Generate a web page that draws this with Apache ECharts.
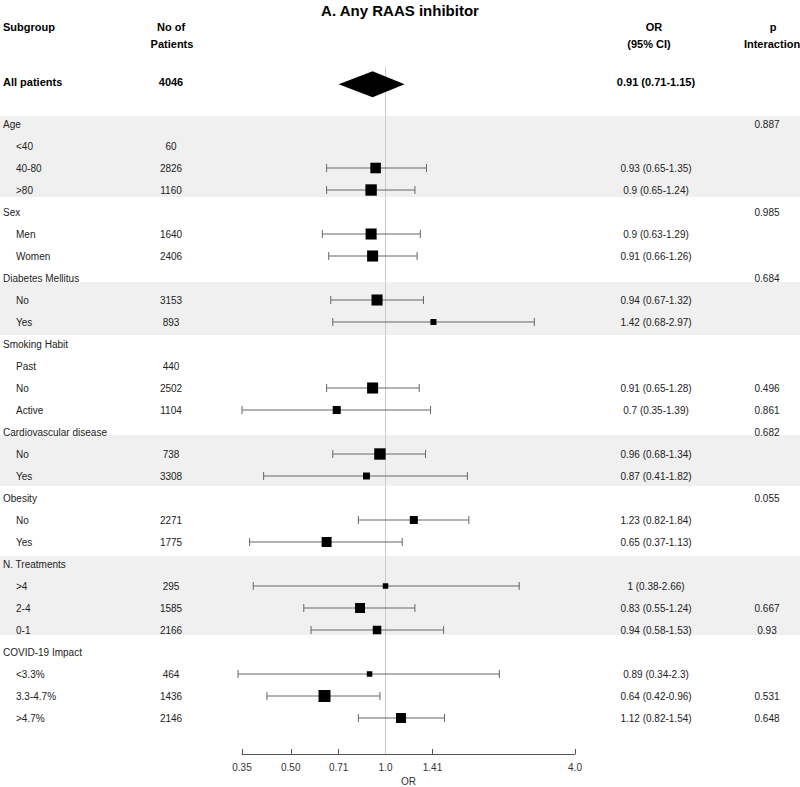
<!DOCTYPE html>
<html>
<head>
<meta charset="utf-8">
<script src="https://cdn.jsdelivr.net/npm/echarts@6/dist/echarts.min.js"></script>
<style>html,body{margin:0;padding:0;background:#fff}#c{width:800px;height:787px}</style>
</head>
<body>
<div id="c"></div>
<script>
// ---------------- data ----------------
const subgroups = ['Age','<40','40-80','>80','Sex','Men','Women','Diabetes Mellitus','No','Yes','Smoking Habit','Past','No','Active','Cardiovascular disease','No','Yes','Obesity','No','Yes','N. Treatments','>4','2-4','0-1','COVID-19 Impact','<3.3%','3.3-4.7%','>4.7%'];
const isGroupHeader = [1,0,0,0,1,0,0,1,0,0,1,0,0,0,1,0,0,1,0,0,1,0,0,0,1,0,0,0];
const patients = [null,60,2826,1160,null,1640,2406,null,3153,893,null,440,2502,1104,null,738,3308,null,2271,1775,null,295,1585,2166,null,464,1436,2146];
const orEst  = [null,null,0.93,0.9,null,0.9,0.91,null,0.94,1.42,null,null,0.91,0.7,null,0.96,0.87,null,1.23,0.65,null,1,0.83,0.94,null,0.89,0.64,1.12];
const ciLow  = [null,null,0.65,0.65,null,0.63,0.66,null,0.67,0.68,null,null,0.65,0.35,null,0.68,0.41,null,0.82,0.37,null,0.38,0.55,0.58,null,0.34,0.42,0.82];
const ciHigh = [null,null,1.35,1.24,null,1.29,1.26,null,1.32,2.97,null,null,1.28,1.39,null,1.34,1.82,null,1.84,1.13,null,2.66,1.24,1.53,null,2.3,0.96,1.54];
const pInteraction = ['0.887','','','','0.985','','','0.684','','','','','0.496','0.861','0.682','','','0.055','','','','','0.667','0.93','','','0.531','0.648'];
// relative study weight (box size)
const boxWeight = [null,null,0.88,0.95,null,0.92,0.92,null,0.92,0.5,null,null,0.92,0.67,null,0.95,0.58,null,0.67,0.83,null,0.46,0.83,0.71,null,0.46,1,0.83];
const overallLabel = 'All patients';
const overallN = 4046;
const overallOR = 0.91, overallLow = 0.71, overallHigh = 1.15;
const tickValues = [0.35, 0.5, 0.71, 1.0, 1.41, 4.0];
const tickLabels = ['0.35', '0.50', '0.71', '1.0', '1.41', '4.0'];
// shaded groups, in row units
const shadedBands = [[-0.36, 3.32], [7.18, 9.59], [14.14, 16.45], [19.64, 23.23]];

// ---------------- rendering ----------------
const LOG = v => Math.log2(v);
const FONT = '"Liberation Sans", Arial, Helvetica, sans-serif';
const OVERALL_ROW = -1.9;
const Y_MIN = -3, Y_MAX = (754 - 124) / 22;
const chart = echarts.init(document.getElementById('c'), null, {renderer: 'svg', width: 800, height: 787});

function txt(x, y, text, opt) {
  opt = opt || {};
  return {type: 'text', x: x, y: y, style: {
    text: text, fill: opt.fill || '#222', fontSize: opt.size || 10,
    fontWeight: opt.bold ? 'bold' : 'normal', fontFamily: FONT,
    align: opt.align || 'left', verticalAlign: 'middle'}};
}

const rowIdx = subgroups.map((_, i) => i);
const ciData = rowIdx.filter(i => orEst[i] != null).map(i => [LOG(ciLow[i]), LOG(ciHigh[i]), i]);
const boxData = rowIdx.filter(i => orEst[i] != null).map(i => [LOG(orEst[i]), i, boxWeight[i]]);

const option = {
  animation: false,
  backgroundColor: '#fff',
  grid: {left: 242, right: 225, top: 58, height: 696, containLabel: false, outerBoundsMode: 'none'},
  xAxis: {
    type: 'value', min: LOG(0.35), max: LOG(4.0),
    axisLine: {show: true, onZero: false, lineStyle: {color: '#555', width: 1}},
    axisTick: {show: true, inside: true, length: 5, customValues: tickValues.map(LOG), lineStyle: {color: '#555'}},
    axisLabel: {
      customValues: tickValues.map(LOG), fontSize: 10, color: '#333', fontFamily: FONT, margin: 8,
      formatter: function (v) {
        let best = 0, d = Infinity;
        tickValues.forEach((t, k) => { const dd = Math.abs(LOG(t) - v); if (dd < d) { d = dd; best = k; } });
        return tickLabels[best];
      }
    },
    splitLine: {show: false},
    name: 'OR', nameLocation: 'middle', nameGap: 22,
    nameTextStyle: {fontSize: 10, color: '#333', fontFamily: FONT}
  },
  yAxis: {type: 'value', inverse: true, min: Y_MIN, max: Y_MAX, show: false},
  graphic: [
    txt(400, 10, 'A. Any RAAS inhibitor', {size: 15, bold: true, align: 'center', fill: '#000'}),
    txt(3, 27, 'Subgroup', {size: 11, bold: true, fill: '#000'}),
    txt(171, 27, 'No of', {size: 11, bold: true, align: 'center', fill: '#000'}),
    txt(172, 44, 'Patients', {size: 11, bold: true, align: 'center', fill: '#000'}),
    txt(654, 27, 'OR', {size: 11, bold: true, align: 'center', fill: '#000'}),
    txt(649, 44, '(95% CI)', {size: 11, bold: true, align: 'center', fill: '#000'}),
    txt(773, 27, 'p', {size: 11, bold: true, align: 'center', fill: '#000'}),
    txt(772, 44, 'Interaction', {size: 11, bold: true, align: 'center', fill: '#000'})
  ],
  series: [
    { // shaded bands
      type: 'custom', clip: false, silent: true, z: 0,
      data: shadedBands.map(b => [0, b[0], b[1]]),
      encode: {x: 0, y: 1},
      renderItem: function (params, api) {
        const y0 = api.coord([0, api.value(1)])[1];
        const y1 = api.coord([0, api.value(2)])[1];
        return {type: 'rect', shape: {x: 0, y: y0, width: api.getWidth(), height: y1 - y0}, style: {fill: '#f0f0f0'}};
      }
    },
    { // reference line at OR = 1
      type: 'custom', clip: false, silent: true, z: 1,
      data: [[LOG(1), -2.6, Y_MAX]],
      encode: {x: 0, y: 1},
      renderItem: function (params, api) {
        const p0 = api.coord([api.value(0), api.value(1)]);
        const p1 = api.coord([api.value(0), api.value(2)]);
        return {type: 'line', shape: {x1: p0[0], y1: p0[1], x2: p1[0], y2: p1[1]}, style: {stroke: '#cccccc', lineWidth: 1}};
      }
    },
    { // confidence intervals
      type: 'custom', clip: false, silent: true, z: 2,
      data: ciData,
      encode: {x: [0, 1], y: 2},
      renderItem: function (params, api) {
        const a = api.coord([api.value(0), api.value(2)]);
        const b = api.coord([api.value(1), api.value(2)]);
        const st = {stroke: '#666', lineWidth: 1};
        return {type: 'group', children: [
          {type: 'line', shape: {x1: a[0], y1: a[1], x2: b[0], y2: b[1]}, style: st},
          {type: 'line', shape: {x1: a[0], y1: a[1] - 4, x2: a[0], y2: a[1] + 4}, style: st},
          {type: 'line', shape: {x1: b[0], y1: b[1] - 4, x2: b[0], y2: b[1] + 4}, style: st}
        ]};
      }
    },
    { // point estimate boxes
      type: 'custom', clip: false, silent: true, z: 3,
      data: boxData,
      encode: {x: 0, y: 1},
      renderItem: function (params, api) {
        const c = api.coord([api.value(0), api.value(1)]);
        const s = 12 * api.value(2);
        return {type: 'rect', shape: {x: c[0] - s / 2, y: c[1] - s / 2, width: s, height: s}, style: {fill: '#000'}};
      }
    },
    { // overall diamond
      type: 'custom', clip: false, silent: true, z: 3,
      data: [[LOG(overallLow), LOG(overallOR), LOG(overallHigh), OVERALL_ROW]],
      encode: {x: [0, 1, 2], y: 3},
      renderItem: function (params, api) {
        const r = api.value(3);
        const l = api.coord([api.value(0), r]);
        const m = api.coord([api.value(1), r]);
        const h = api.coord([api.value(2), r]);
        const yc = l[1] + 2, hh = 13;
        return {type: 'polygon', shape: {points: [[l[0], yc], [m[0], yc - hh], [h[0], yc], [m[0], yc + hh]]}, style: {fill: '#000'}};
      }
    },
    { // text columns
      type: 'custom', clip: false, silent: true, z: 4,
      data: rowIdx.map(i => [0, i]),
      encode: {x: 0, y: 1},
      renderItem: function (params, api) {
        const i = params.dataIndex;
        const y = api.coord([0, api.value(1)])[1];
        const ch = [txt(isGroupHeader[i] ? 3 : 16, y, subgroups[i])];
        if (patients[i] != null) ch.push(txt(171, y, String(patients[i]), {align: 'center'}));
        if (orEst[i] != null) ch.push(txt(656, y, orEst[i] + ' (' + ciLow[i] + '-' + ciHigh[i] + ')', {align: 'center'}));
        if (pInteraction[i]) ch.push(txt(767, y, pInteraction[i], {align: 'center'}));
        return {type: 'group', children: ch};
      }
    },
    { // overall row text
      type: 'custom', clip: false, silent: true, z: 4,
      data: [[0, OVERALL_ROW]],
      encode: {x: 0, y: 1},
      renderItem: function (params, api) {
        const y = api.coord([0, api.value(1)])[1];
        return {type: 'group', children: [
          txt(3, y, overallLabel, {size: 11, bold: true, fill: '#000'}),
          txt(171, y, String(overallN), {size: 11, bold: true, align: 'center', fill: '#000'}),
          txt(656, y, overallOR + ' (' + overallLow + '-' + overallHigh + ')', {size: 11, bold: true, align: 'center', fill: '#000'})
        ]};
      }
    }
  ]
};
chart.setOption(option);
</script>
</body>
</html>
